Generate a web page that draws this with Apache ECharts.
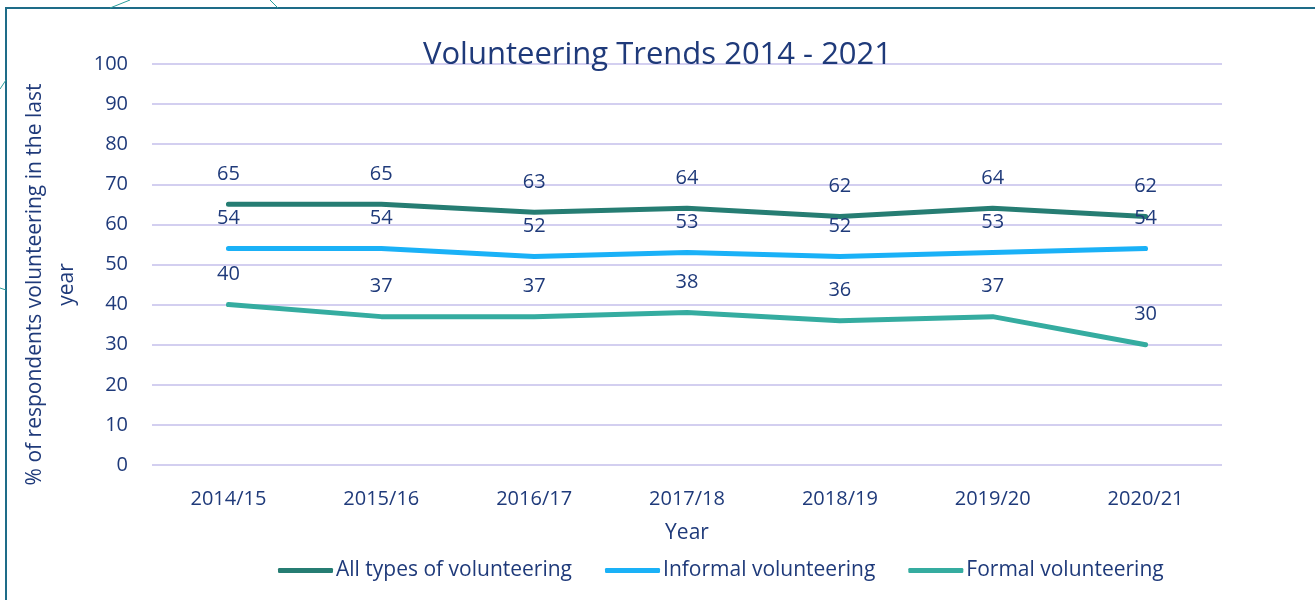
<!DOCTYPE html>
<html>
<head>
<meta charset="utf-8">
<script src="https://cdn.jsdelivr.net/npm/echarts@6/dist/echarts.min.js"></script>
<style>
  html, body { margin: 0; padding: 0; background: #fff; }
  #main { width: 1315px; height: 600px; }
</style>
</head>
<body>
<div id="main"></div>
<script>
var years = ['2014/15', '2015/16', '2016/17', '2017/18', '2018/19', '2019/20', '2020/21'];
var allTypes = [65, 65, 63, 64, 62, 64, 62];
var informal = [54, 54, 52, 53, 52, 53, 54];
var formal = [40, 37, 37, 38, 36, 37, 30];

var navy = '#1F3A7A';
var font = 'Open Sans';

(function () {
  var myChart = echarts.init(document.getElementById('main'));

  function lineSeries(name, data, color) {
    return {
      name: name,
      type: 'line',
      data: data,
      symbol: 'circle',
      symbolSize: 2,
      showSymbol: true,
      lineStyle: { width: 5, color: color, cap: 'round' },
      itemStyle: { color: color },
      label: {
        show: true,
        position: 'top',
        distance: 19,
        color: navy,
        fontFamily: font,
        fontSize: 20
      }
    };
  }

  var option = {
    animation: false,
    title: {
      text: 'Volunteering Trends 2014 - 2021',
      left: 'center',
      top: 35,
      textStyle: { color: navy, fontFamily: font, fontSize: 31, fontWeight: 'normal' }
    },
    legend: {
      data: ['All types of volunteering', 'Informal volunteering', 'Formal volunteering'],
      left: 273,
      top: 555,
      icon: 'roundRect',
      itemWidth: 55,
      itemHeight: 5,
      itemGap: 33,
      textStyle: { color: navy, fontFamily: font, fontSize: 21, padding: [0, 0, 0, -2] }
    },
    grid: { left: 152, right: 93, top: 64, bottom: 135 },
    xAxis: {
      type: 'category',
      data: years,
      name: 'Year',
      nameLocation: 'middle',
      nameGap: 58,
      nameTextStyle: { color: navy, fontFamily: font, fontSize: 21 },
      axisLine: { show: false },
      axisTick: { show: false },
      axisLabel: { color: navy, fontFamily: font, fontSize: 20, margin: 24 }
    },
    yAxis: {
      type: 'value',
      min: 0,
      max: 100,
      interval: 10,
      name: '% of respondents volunteering in the last\nyear',
      nameLocation: 'middle',
      nameRotate: 90,
      nameGap: 56,
      nameTextStyle: { color: navy, fontFamily: font, fontSize: 21, align: 'center', lineHeight: 32, padding: [0, 40, 0, 0] },
      axisLine: { show: false },
      axisTick: { show: false },
      axisLabel: { color: navy, fontFamily: font, fontSize: 20, margin: 24 },
      splitLine: { lineStyle: { color: '#D3CFF0', width: 2 } }
    },
    graphic: [
      { type: 'rect', shape: { x: 6, y: 8, width: 1400, height: 700 }, style: { fill: 'none', stroke: '#1E6C88', lineWidth: 2 }, silent: true },
      { type: 'line', shape: { x1: 110, y1: 8, x2: 130, y2: 0 }, style: { stroke: '#2A9D9A', lineWidth: 1 }, silent: true },
      { type: 'line', shape: { x1: 270, y1: 0, x2: 278, y2: 8 }, style: { stroke: '#2A9D9A', lineWidth: 1 }, silent: true },
      { type: 'line', shape: { x1: 0, y1: 89, x2: 6, y2: 80 }, style: { stroke: '#2A9D9A', lineWidth: 1 }, silent: true },
      { type: 'line', shape: { x1: 0, y1: 288, x2: 6, y2: 290 }, style: { stroke: '#2A9D9A', lineWidth: 1 }, silent: true }
    ],
    series: [
      lineSeries('All types of volunteering', allTypes, '#267D73'),
      lineSeries('Informal volunteering', informal, '#1AB1F7'),
      lineSeries('Formal volunteering', formal, '#35ACA0')
    ]
  };

  myChart.setOption(option);
})();
</script>
</body>
</html>
